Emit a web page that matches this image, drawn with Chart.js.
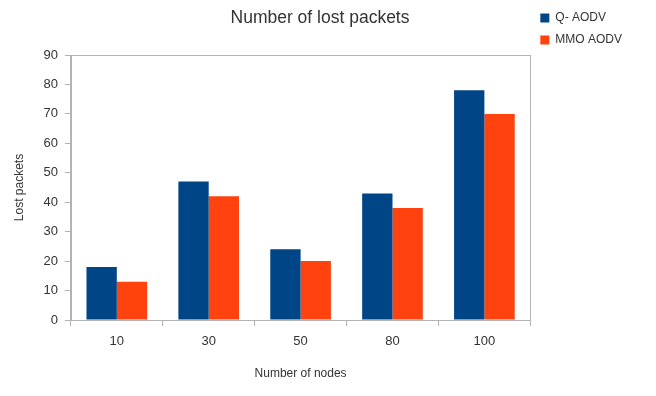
<!DOCTYPE html>
<html>
<head>
<meta charset="utf-8">
<script src="https://cdn.jsdelivr.net/npm/chart.js@4.4.1/dist/chart.umd.min.js"></script>
<style>
  html, body { margin: 0; padding: 0; background: #ffffff; }
  #wrap { width: 656px; height: 396px; }
</style>
</head>
<body>
<div id="wrap"><canvas id="c" width="656" height="396"></canvas></div>
<script>
// Lost packets per network size for the two routing protocols
const nodeCounts = ['10', '30', '50', '80', '100'];
const qAodv = [18, 47, 24, 43, 78];
const mmoAodv = [13, 42, 20, 38, 70];
const yTicks = [0, 10, 20, 30, 40, 50, 60, 70, 80, 90];

const FONT = "'Liberation Sans', Arial, sans-serif";
const AXIS_GREY = '#b3b3b3';

// Thin grey frame around the plotting area
const frame = {
  id: 'frame',
  afterDraw(chart) {
    const { ctx, chartArea: a } = chart;
    ctx.save();
    ctx.strokeStyle = AXIS_GREY;
    ctx.lineWidth = 1;
    ctx.strokeRect(Math.round(a.left) + 0.5, Math.round(a.top) + 0.5,
                   Math.round(a.right - a.left), Math.round(a.bottom - a.top));
    ctx.restore();
  }
};

new Chart(document.getElementById('c'), {
  type: 'bar',
  data: {
    labels: nodeCounts,
    datasets: [
      { label: 'Q- AODV', data: qAodv, backgroundColor: '#004586' },
      { label: 'MMO AODV', data: mmoAodv, backgroundColor: '#ff420e' }
    ]
  },
  options: {
    responsive: false,
    animation: false,
    devicePixelRatio: 1,
    layout: { padding: { left: 8, right: 24, top: 2, bottom: 11 } },
    datasets: { bar: { barPercentage: 1.0, categoryPercentage: 0.66 } },
    plugins: {
      title: {
        display: true,
        text: 'Number of lost packets',
        color: '#333333',
        font: { family: FONT, size: 17.5, weight: 'normal' },
        padding: { top: 6, bottom: 26 }
      },
      legend: {
        position: 'right',
        align: 'start',
        labels: {
          color: '#333333',
          font: { family: FONT, size: 12 },
          boxWidth: 9,
          boxHeight: 9,
          padding: 10
        }
      },
      tooltip: { enabled: false }
    },
    scales: {
      x: {
        grid: { display: true, drawOnChartArea: false, drawTicks: true, tickLength: 6, color: AXIS_GREY, offset: true },
        border: { color: AXIS_GREY },
        ticks: { color: '#333333', font: { family: FONT, size: 13 }, padding: 8 },
        title: { display: true, text: 'Number of nodes', color: '#333333', font: { family: FONT, size: 12 }, padding: { top: 9 } }
      },
      y: {
        min: 0,
        max: 90,
        afterBuildTicks(scale) { scale.ticks = yTicks.map(v => ({ value: v })); },
        grid: { display: true, drawOnChartArea: false, drawTicks: true, tickLength: 6, color: AXIS_GREY },
        border: { color: AXIS_GREY },
        ticks: { color: '#333333', font: { family: FONT, size: 13 }, padding: 7 },
        title: { display: true, text: 'Lost packets', color: '#333333', font: { family: FONT, size: 12 }, padding: { bottom: 10 } }
      }
    }
  },
  plugins: [frame]
});
</script>
</body>
</html>
